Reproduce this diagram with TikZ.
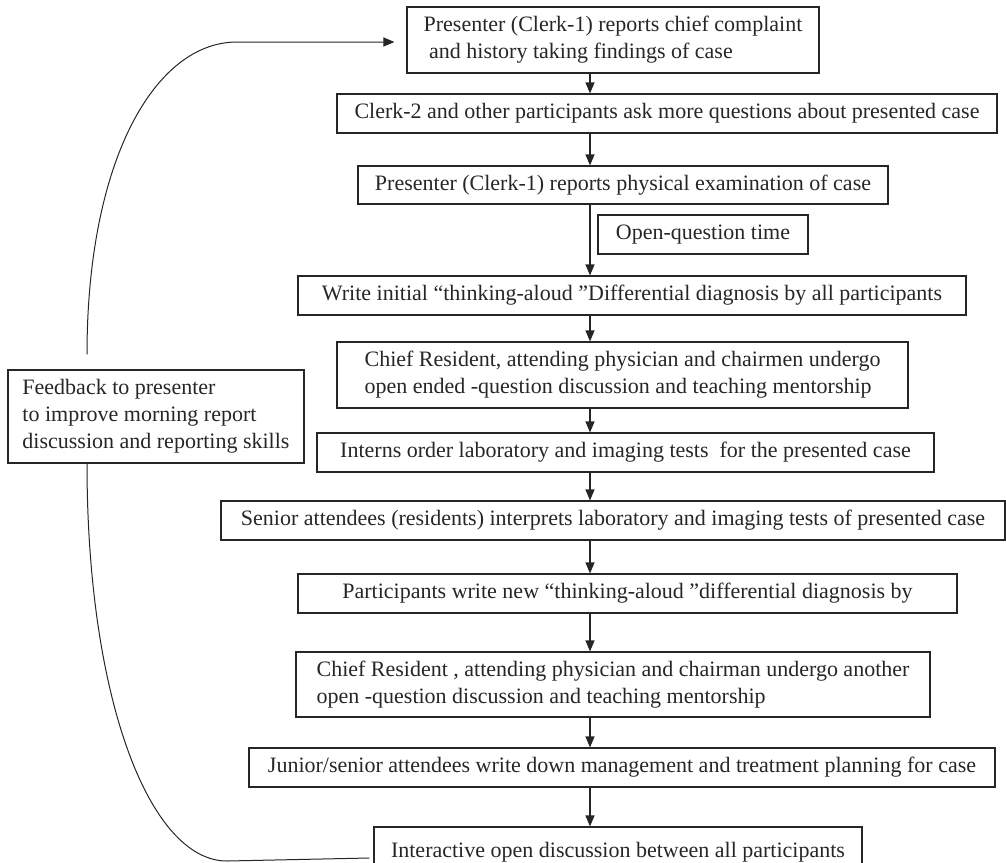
\documentclass[tikz,border=0pt]{standalone}
\usepackage{fontspec}
\setmainfont{Liberation Serif}
\usetikzlibrary{arrows.meta}
\begin{document}
\begin{tikzpicture}[x=1pt,y=-1pt,
  box/.style={draw=black!85, line width=1.1pt, font=\fontsize{22}{27}\selectfont, align=left, inner sep=0pt, text=black!85},
  arr/.style={line width=1.1pt, draw=black!85, -{Triangle[length=11pt,width=9pt]}},
  fbline/.style={line width=1pt, draw=black!85}]
\path[use as bounding box] (0,0) rectangle (1006,862);
\clip (0,0) rectangle (1006,862);
\coordinate (ax) at (590,0);
\node[box, minimum width=412, minimum height=66] (B1) at (613,40) {Presenter (Clerk-1) reports chief complaint\\\hspace{0.25em}and history taking findings of case};
\node[box, minimum width=660, minimum height=39] (B2) at (667,113.5) {Clerk-2 and other participants ask more questions about presented case};
\node[box, minimum width=530, minimum height=38] (B3) at (623,185) {Presenter (Clerk-1) reports physical examination of case};
\node[box, minimum width=210, minimum height=39] (OQ) at (703,234.5) {Open-question time};
\node[box, minimum width=668, minimum height=39] (B5) at (632,295.5) {Write initial “thinking-aloud ”Differential diagnosis by all participants};
\node[box, minimum width=571, minimum height=66] (B6) at (622.5,375) {Chief Resident, attending physician and chairmen undergo\\open ended -question discussion and teaching mentorship};
\node[box, minimum width=617, minimum height=39] (B7) at (625.5,452.5) {Interns order laboratory and imaging tests\ \ for the presented case};
\node[box, minimum width=784, minimum height=39] (B8) at (613,520.5) {Senior attendees (residents) interprets laboratory and imaging tests of presented case};
\node[box, minimum width=659, minimum height=39] (B9) at (627.5,593.5) {Participants write new “thinking-aloud ”differential diagnosis by};
\node[box, minimum width=634, minimum height=65] (B10) at (613,684.5) {Chief Resident , attending physician and chairman undergo another\\open -question discussion and teaching mentorship};
\node[box, minimum width=746, minimum height=39] (B11) at (622,767.5) {Junior/senior attendees write down management and treatment planning for case};
\node[box, minimum width=488, minimum height=50] (B12) at (618,852) {Interactive open discussion between all participants};
\node[box, minimum width=296, minimum height=93] (FB) at (156,416.5) {Feedback to presenter\\to improve morning report\\discussion and reporting skills};
\draw[arr] (B1.south -| ax) -- (B2.north -| ax);
\draw[arr] (B2.south -| ax) -- (B3.north -| ax);
\draw[arr] (B3.south -| ax) -- (B5.north -| ax);
\draw[arr] (B5.south -| ax) -- (B6.north -| ax);
\draw[arr] (B6.south -| ax) -- (B7.north -| ax);
\draw[arr] (B7.south -| ax) -- (B8.north -| ax);
\draw[arr] (B8.south -| ax) -- (B9.north -| ax);
\draw[arr] (B9.south -| ax) -- (B10.north -| ax);
\draw[arr] (B10.south -| ax) -- (B11.north -| ax);
\draw[arr] (B11.south -| ax) -- (B12.north -| ax);
\draw[fbline, -{Triangle[length=11pt,width=9pt]}] ([xshift=-69pt,yshift=15pt]FB.north) .. controls (87,160) and (155,42) .. (237,42) -- ([xshift=-12pt,yshift=-2pt]B1.west);
\draw[fbline] ([xshift=-69pt]FB.south) .. controls (87,700) and (150,861) .. (227,861) -- ([xshift=-4pt,yshift=-6pt]B12.west);
\end{tikzpicture}
\end{document}
